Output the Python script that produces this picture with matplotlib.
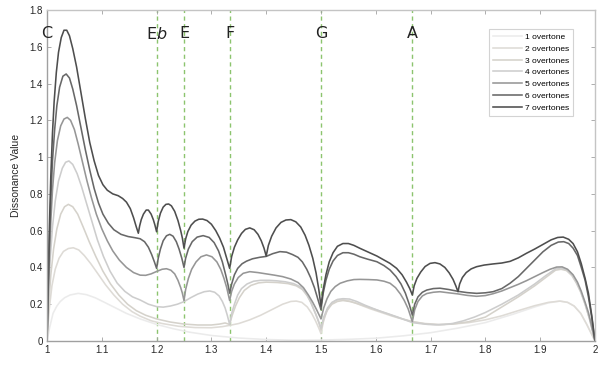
import matplotlib
matplotlib.use("Agg")
import matplotlib.pyplot as plt

plt.rcParams['font.family'] = ['Liberation Sans', 'DejaVu Sans']

# ---------------- data ----------------
ratio_ticks = [1, 1.1, 1.2, 1.3, 1.4, 1.5, 1.6, 1.7, 1.8, 1.9, 2]
ratio_tick_labels = ["1", "1.1", "1.2", "1.3", "1.4", "1.5", "1.6", "1.7", "1.8", "1.9", "2"]
value_ticks = [0, 0.2, 0.4, 0.6, 0.8, 1.0, 1.2, 1.4, 1.6, 1.8]
value_tick_labels = ["0", "0.2", "0.4", "0.6", "0.8", "1", "1.2", "1.4", "1.6", "1.8"]

note_names = ["C", "E$\\mathit{b}$", "E", "F", "G", "A"]
note_ratios = [1.0, 1.2, 1.25, 4/3, 1.5, 5/3]
marker_ratios = [1.2, 1.25, 4/3, 1.5, 5/3]

series_names = ["1 overtone", "2 overtones", "3 overtones", "4 overtones",
                "5 overtones", "6 overtones", "7 overtones"]

x7 = [1.000, 1.002, 1.004, 1.007, 1.010, 1.013, 1.017, 1.021, 1.026, 1.031, 1.036, 1.041,
      1.047, 1.054, 1.062, 1.070, 1.078, 1.086, 1.094, 1.102, 1.110, 1.120, 1.130, 1.138,
      1.145, 1.152, 1.158, 1.163, 1.1667,
      1.169, 1.172, 1.176, 1.181, 1.185, 1.190, 1.194, 1.197, 1.200,
      1.203, 1.207, 1.212, 1.217, 1.222, 1.227, 1.233, 1.239, 1.244, 1.247, 1.250,
      1.253, 1.257, 1.263, 1.270, 1.277, 1.284, 1.292, 1.300, 1.308, 1.315, 1.322, 1.327, 1.3333,
      1.337, 1.342, 1.348, 1.355, 1.362, 1.370, 1.378, 1.385, 1.391, 1.396, 1.400,
      1.404, 1.410, 1.418, 1.427, 1.436, 1.445, 1.454, 1.463, 1.471, 1.478, 1.485, 1.491, 1.496, 1.500,
      1.504, 1.509, 1.515, 1.522, 1.530, 1.540, 1.550, 1.560, 1.571, 1.585, 1.602, 1.615, 1.626,
      1.638, 1.648, 1.656, 1.662, 1.6667,
      1.670, 1.675, 1.682, 1.690, 1.699, 1.708, 1.717, 1.726, 1.734, 1.741, 1.746, 1.750,
      1.753, 1.758, 1.765, 1.774, 1.784, 1.798, 1.814, 1.830, 1.845, 1.860, 1.875, 1.890,
      1.905, 1.920, 1.932, 1.942, 1.952, 1.960, 1.968, 1.975, 1.982, 1.988, 1.994, 2.000]
y7 = [0.00, 0.30, 0.58, 0.90, 1.13, 1.30, 1.46, 1.57, 1.65, 1.69, 1.69, 1.66,
      1.59, 1.49, 1.35, 1.21, 1.08, 0.98, 0.90, 0.85, 0.82, 0.80, 0.79, 0.775,
      0.755, 0.72, 0.67, 0.62, 0.586,
      0.625, 0.66, 0.69, 0.712, 0.712, 0.69, 0.66, 0.63, 0.594,
      0.65, 0.695, 0.728, 0.743, 0.745, 0.735, 0.705, 0.655, 0.60, 0.56, 0.505,
      0.555, 0.595, 0.63, 0.652, 0.662, 0.663, 0.655, 0.635, 0.60, 0.56, 0.51, 0.46, 0.395,
      0.46, 0.51, 0.55, 0.585, 0.607, 0.615, 0.605, 0.58, 0.545, 0.505, 0.462,
      0.52, 0.57, 0.615, 0.645, 0.658, 0.66, 0.648, 0.62, 0.575, 0.52, 0.45, 0.37, 0.28, 0.19,
      0.28, 0.36, 0.43, 0.48, 0.515, 0.53, 0.53, 0.52, 0.504, 0.485, 0.462, 0.44, 0.422,
      0.395, 0.36, 0.32, 0.285, 0.25,
      0.30, 0.34, 0.375, 0.405, 0.422, 0.426, 0.419, 0.40, 0.37, 0.335, 0.30, 0.268,
      0.31, 0.345, 0.372, 0.392, 0.404, 0.413, 0.419, 0.424, 0.433, 0.452, 0.477, 0.50,
      0.525, 0.55, 0.563, 0.565, 0.553, 0.53, 0.485, 0.42, 0.34, 0.26, 0.14, 0.00]

x6 = [1.000, 1.002, 1.004, 1.007, 1.010, 1.014, 1.018, 1.023, 1.029, 1.035, 1.041, 1.047,
      1.054, 1.062, 1.070, 1.078, 1.086, 1.094, 1.102, 1.112, 1.122, 1.135, 1.148, 1.160,
      1.170, 1.178, 1.185, 1.191, 1.196, 1.200,
      1.203, 1.207, 1.212, 1.218, 1.224, 1.230, 1.236, 1.241, 1.246, 1.250,
      1.253, 1.258, 1.265, 1.274, 1.285, 1.296, 1.305, 1.313, 1.320, 1.326, 1.330, 1.3333,
      1.337, 1.342, 1.348, 1.356, 1.364, 1.375, 1.388, 1.400, 1.412, 1.425, 1.437, 1.448,
      1.458, 1.466, 1.474, 1.481, 1.488, 1.494, 1.500,
      1.504, 1.509, 1.515, 1.522, 1.530, 1.540, 1.550, 1.560, 1.571, 1.585, 1.602, 1.615,
      1.626, 1.637, 1.646, 1.654, 1.661, 1.6667,
      1.671, 1.677, 1.685, 1.693, 1.705, 1.717, 1.733, 1.750, 1.767, 1.784, 1.800, 1.814,
      1.830, 1.845, 1.860, 1.875, 1.890, 1.905, 1.920, 1.933, 1.943, 1.952, 1.960, 1.968,
      1.975, 1.982, 1.988, 1.994, 2.000]
y6 = [0.00, 0.26, 0.50, 0.78, 0.98, 1.15, 1.28, 1.38, 1.44, 1.452, 1.43, 1.37,
      1.28, 1.16, 1.04, 0.93, 0.83, 0.75, 0.69, 0.64, 0.605, 0.58, 0.568, 0.562,
      0.556, 0.54, 0.51, 0.47, 0.43, 0.395,
      0.45, 0.50, 0.545, 0.572, 0.58, 0.57, 0.54, 0.50, 0.45, 0.400,
      0.45, 0.50, 0.54, 0.565, 0.573, 0.563, 0.535, 0.49, 0.43, 0.36, 0.31, 0.26,
      0.31, 0.36, 0.395, 0.42, 0.434, 0.447, 0.455, 0.46, 0.475, 0.486, 0.483, 0.47,
      0.455, 0.43, 0.39, 0.345, 0.29, 0.23, 0.17,
      0.26, 0.33, 0.39, 0.435, 0.465, 0.48, 0.48, 0.472, 0.458, 0.445, 0.431, 0.41,
      0.386, 0.35, 0.31, 0.26, 0.20, 0.141,
      0.20, 0.24, 0.265, 0.277, 0.285, 0.287, 0.28, 0.27, 0.263, 0.259, 0.262, 0.268,
      0.285, 0.314, 0.35, 0.395, 0.44, 0.485, 0.52, 0.538, 0.54, 0.53, 0.505, 0.465,
      0.40, 0.33, 0.24, 0.13, 0.00]

x5 = [1.000, 1.002, 1.004, 1.007, 1.010, 1.014, 1.019, 1.025, 1.031, 1.037, 1.043, 1.050,
      1.057, 1.065, 1.073, 1.081, 1.090, 1.100, 1.110, 1.120, 1.132, 1.145, 1.158, 1.170,
      1.180, 1.190, 1.200, 1.210, 1.218, 1.226, 1.233, 1.239, 1.244, 1.247, 1.250,
      1.253, 1.258, 1.264, 1.272, 1.281, 1.291, 1.301, 1.310, 1.317, 1.323, 1.328, 1.3333,
      1.337, 1.342, 1.349, 1.358, 1.370, 1.385, 1.400, 1.415, 1.430, 1.445, 1.458, 1.468,
      1.477, 1.485, 1.492, 1.500,
      1.505, 1.511, 1.518, 1.526, 1.535, 1.548, 1.560, 1.571, 1.586, 1.602, 1.615, 1.626,
      1.636, 1.645, 1.652, 1.659, 1.6667,
      1.671, 1.677, 1.685, 1.693, 1.705, 1.717, 1.733, 1.750, 1.767, 1.784, 1.800, 1.814,
      1.830, 1.845, 1.860, 1.875, 1.890, 1.905, 1.918, 1.930, 1.940, 1.950, 1.960, 1.968,
      1.975, 1.982, 1.988, 1.994, 2.000]
y5 = [0.00, 0.22, 0.42, 0.65, 0.82, 0.97, 1.09, 1.17, 1.207, 1.216, 1.20, 1.15,
      1.07, 0.97, 0.87, 0.78, 0.69, 0.61, 0.545, 0.49, 0.44, 0.40, 0.372, 0.358,
      0.357, 0.365, 0.378, 0.39, 0.393, 0.385, 0.365, 0.33, 0.29, 0.26, 0.22,
      0.28, 0.34, 0.39, 0.43, 0.458, 0.468, 0.458, 0.43, 0.39, 0.34, 0.29, 0.22,
      0.27, 0.31, 0.345, 0.368, 0.377, 0.372, 0.365, 0.358, 0.35, 0.337, 0.318, 0.29,
      0.25, 0.21, 0.17, 0.12,
      0.18, 0.23, 0.27, 0.296, 0.314, 0.327, 0.334, 0.335, 0.334, 0.332, 0.325, 0.314,
      0.29, 0.255, 0.22, 0.175, 0.105,
      0.17, 0.215, 0.245, 0.258, 0.265, 0.268, 0.262, 0.256, 0.248, 0.243, 0.247, 0.257,
      0.272, 0.29, 0.308, 0.328, 0.35, 0.372, 0.39, 0.402, 0.403, 0.39, 0.36, 0.32,
      0.27, 0.21, 0.155, 0.08, 0.00]

x4 = [1.000, 1.003, 1.006, 1.010, 1.015, 1.021, 1.028, 1.034, 1.040, 1.047, 1.055, 1.063,
      1.072, 1.082, 1.092, 1.103, 1.115, 1.128, 1.142, 1.156, 1.170, 1.185, 1.200, 1.212,
      1.225, 1.238, 1.250, 1.262, 1.275, 1.287, 1.297, 1.306, 1.314, 1.320, 1.325, 1.329, 1.3333,
      1.337, 1.342, 1.348, 1.355, 1.365, 1.377, 1.390, 1.405, 1.420, 1.435, 1.450, 1.462,
      1.472, 1.480, 1.487, 1.494, 1.500,
      1.505, 1.512, 1.520, 1.530, 1.540, 1.552, 1.565, 1.580, 1.595, 1.610, 1.625, 1.640,
      1.653, 1.6667, 1.680, 1.695, 1.710, 1.725, 1.740, 1.760, 1.780, 1.800, 1.830, 1.860,
      1.890, 1.910, 1.928, 1.938, 1.948, 1.958, 1.966, 1.974, 1.982, 1.990, 2.000]
y4 = [0.00, 0.25, 0.45, 0.62, 0.76, 0.87, 0.94, 0.972, 0.979, 0.96, 0.91, 0.84,
      0.75, 0.65, 0.55, 0.46, 0.38, 0.315, 0.27, 0.24, 0.223, 0.20, 0.187, 0.184,
      0.19, 0.20, 0.214, 0.235, 0.255, 0.268, 0.272, 0.265, 0.245, 0.215, 0.18, 0.14, 0.09,
      0.15, 0.20, 0.25, 0.285, 0.31, 0.325, 0.33, 0.33, 0.327, 0.322, 0.312, 0.295,
      0.265, 0.22, 0.17, 0.12, 0.07,
      0.13, 0.18, 0.21, 0.226, 0.23, 0.228, 0.215, 0.195, 0.177, 0.16, 0.145, 0.13,
      0.115, 0.10, 0.095, 0.09, 0.088, 0.09, 0.095, 0.11, 0.13, 0.155, 0.20, 0.25,
      0.31, 0.355, 0.392, 0.397, 0.388, 0.36, 0.32, 0.27, 0.20, 0.12, 0.00]

x3 = [1.000, 1.003, 1.007, 1.012, 1.018, 1.025, 1.032, 1.039, 1.047, 1.056, 1.066, 1.077,
      1.089, 1.102, 1.116, 1.131, 1.147, 1.163, 1.180, 1.200, 1.225, 1.250, 1.275, 1.300,
      1.315, 1.325, 1.3333, 1.338, 1.344, 1.351, 1.360, 1.372, 1.386, 1.400, 1.420, 1.440,
      1.455, 1.466, 1.475, 1.483, 1.490, 1.496, 1.500,
      1.505, 1.512, 1.520, 1.530, 1.540, 1.552, 1.565, 1.580, 1.600, 1.620, 1.640, 1.6667,
      1.690, 1.715, 1.740, 1.770, 1.800, 1.830, 1.860, 1.890, 1.910, 1.928, 1.938, 1.948,
      1.958, 1.966, 1.974, 1.982, 1.990, 2.000]
y3 = [0.00, 0.19, 0.36, 0.50, 0.61, 0.69, 0.73, 0.743, 0.73, 0.69, 0.62, 0.54,
      0.46, 0.38, 0.31, 0.25, 0.20, 0.165, 0.14, 0.12, 0.103, 0.092, 0.087, 0.087,
      0.092, 0.098, 0.09, 0.14, 0.19, 0.235, 0.275, 0.302, 0.316, 0.32, 0.318, 0.312,
      0.30, 0.28, 0.245, 0.20, 0.15, 0.10, 0.06,
      0.12, 0.17, 0.20, 0.215, 0.22, 0.215, 0.205, 0.19, 0.17, 0.15, 0.128, 0.105,
      0.093, 0.088, 0.092, 0.105, 0.13, 0.185, 0.24, 0.30, 0.345, 0.385, 0.39, 0.383,
      0.355, 0.315, 0.265, 0.20, 0.12, 0.00]

x2 = [1.000, 1.004, 1.009, 1.015, 1.022, 1.030, 1.039, 1.048, 1.058, 1.068, 1.080, 1.093,
      1.107, 1.122, 1.138, 1.155, 1.170, 1.190, 1.210, 1.240, 1.270, 1.300, 1.320, 1.3333,
      1.350, 1.370, 1.390, 1.410, 1.430, 1.445, 1.455, 1.465, 1.475, 1.483, 1.490, 1.496, 1.500,
      1.504, 1.510, 1.518, 1.528, 1.540, 1.555, 1.570, 1.590, 1.610, 1.630, 1.650, 1.6667,
      1.690, 1.715, 1.740, 1.770, 1.800, 1.830, 1.860, 1.890, 1.915, 1.936, 1.950, 1.962,
      1.974, 1.985, 2.000]
y2 = [0.00, 0.17, 0.30, 0.39, 0.45, 0.487, 0.503, 0.507, 0.495, 0.465, 0.42, 0.365,
      0.305, 0.25, 0.20, 0.16, 0.135, 0.11, 0.095, 0.08, 0.073, 0.072, 0.078, 0.085,
      0.095, 0.115, 0.14, 0.17, 0.20, 0.215, 0.217, 0.21, 0.185, 0.15, 0.11, 0.07, 0.04,
      0.10, 0.16, 0.20, 0.222, 0.225, 0.215, 0.198, 0.175, 0.155, 0.135, 0.118, 0.105,
      0.095, 0.09, 0.092, 0.10, 0.115, 0.137, 0.165, 0.192, 0.21, 0.217, 0.21, 0.19,
      0.15, 0.09, 0.00]

x1 = [1.000, 1.005, 1.011, 1.018, 1.024, 1.032, 1.042, 1.057, 1.072, 1.088, 1.105, 1.125,
      1.145, 1.170, 1.200, 1.230, 1.260, 1.300, 1.350, 1.400, 1.450, 1.500, 1.550, 1.600,
      1.650, 1.700, 1.750, 1.800, 1.850, 1.890, 1.915, 1.936, 1.950, 1.962, 1.974, 1.985, 2.000]
y1 = [0.00, 0.075, 0.15, 0.19, 0.214, 0.235, 0.25, 0.259, 0.252, 0.235, 0.21, 0.18,
      0.15, 0.12, 0.09, 0.067, 0.048, 0.03, 0.016, 0.008, 0.004, 0.005, 0.009, 0.015,
      0.028, 0.045, 0.07, 0.10, 0.145, 0.185, 0.207, 0.217, 0.21, 0.19, 0.15, 0.09, 0.00]

xs = [x1, x2, x3, x4, x5, x6, x7]
ys = [y1, y2, y3, y4, y5, y6, y7]

# ---------------- styling ----------------
colors = ["#ebebeb", "#dedbd6", "#d5d2cb", "#cdcdcd", "#969696", "#686868", "#4e4e4e"]

fig = plt.figure(figsize=(6.08, 3.65), dpi=100)
ax = fig.add_axes([0.0773, 0.0658, 0.9013, 0.9068])

for xm in marker_ratios:
    ax.axvline(xm, color="#8cc46e", linestyle=(0, (3, 2.5)), linewidth=1.0, zorder=1)

for xv, yv, c, name in zip(xs, ys, colors, series_names):
    ax.plot(xv, yv, color=c, linewidth=1.15, label=name, zorder=2,
            solid_joinstyle="round")

for name, xr in zip(note_names, note_ratios):
    ax.text(xr, 1.67, name, ha="center", va="center", fontsize=11.5,
            color="#222222", family=["DejaVu Sans"])

ax.set_xlim(1, 2)
ax.set_ylim(0, 1.8)
ax.set_xticks(ratio_ticks)
ax.set_xticklabels(ratio_tick_labels)
ax.set_yticks(value_ticks)
ax.set_yticklabels(value_tick_labels)
ax.tick_params(direction="in", length=3, width=0.6, labelsize=7, labelcolor="#262626",
               top=True, right=True, pad=3, color="#a0a0a0")
ax.set_ylabel("Dissonance Value", fontsize=7.5, color="#262626", labelpad=6)

for side in ["top", "right"]:
    ax.spines[side].set_color("#c4c4c4")
    ax.spines[side].set_linewidth(1.0)
for side in ["left", "bottom"]:
    ax.spines[side].set_color("#a0a0a0")
    ax.spines[side].set_linewidth(1.0)

leg = ax.legend(loc="upper right", bbox_to_anchor=(0.960, 0.943), borderaxespad=0,
                fontsize=6.0, frameon=True, fancybox=False, handlelength=3.5,
                handletextpad=0.3, borderpad=0.5, labelspacing=0.48)
leg.get_frame().set_edgecolor("#c8c8c8")
leg.get_frame().set_linewidth(0.8)

fig.savefig("out.png", dpi=100)
